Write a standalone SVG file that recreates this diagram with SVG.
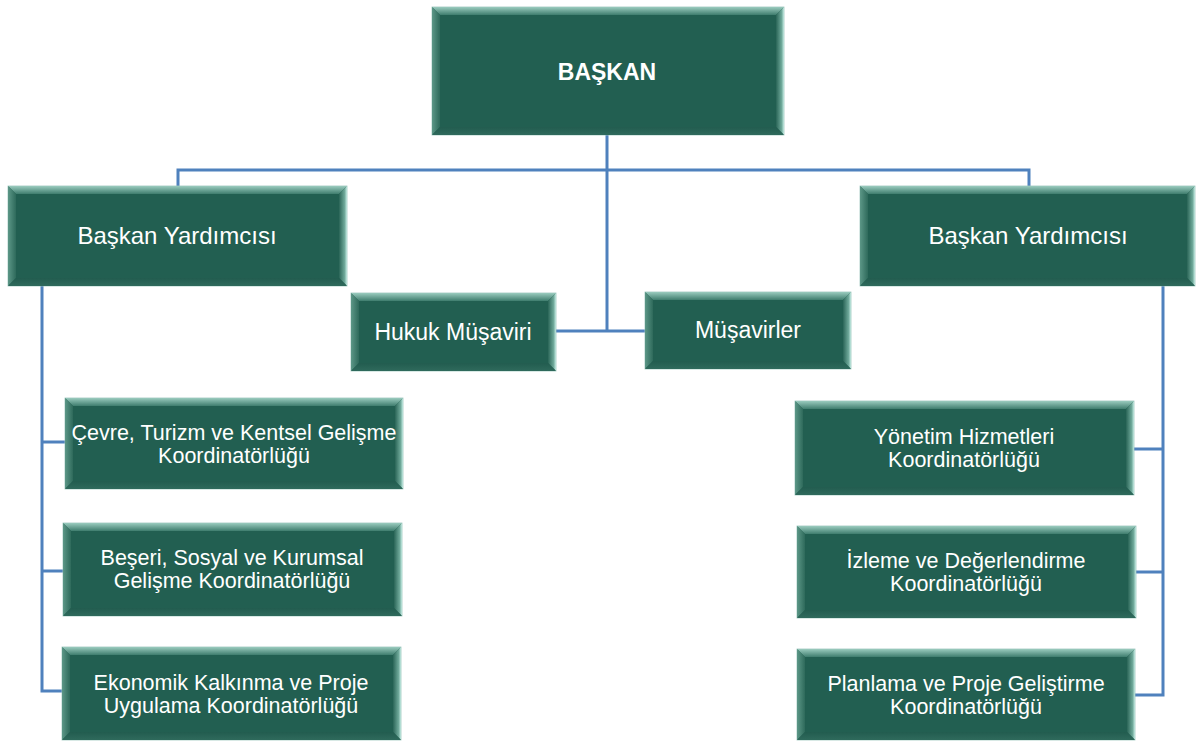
<svg xmlns="http://www.w3.org/2000/svg" width="1196" height="742" viewBox="0 0 1196 742">
<defs>
<linearGradient id="gTop" x1="0" y1="0" x2="0" y2="1"><stop offset="0" stop-color="#9ACBBE"/><stop offset="1" stop-color="#3F7D6E"/></linearGradient>
<linearGradient id="gLeft" x1="0" y1="0" x2="1" y2="0"><stop offset="0" stop-color="#5C9787"/><stop offset="1" stop-color="#2E6A5B"/></linearGradient>
<linearGradient id="gRight" x1="0" y1="0" x2="1" y2="0"><stop offset="0" stop-color="#2A6557"/><stop offset="0.7" stop-color="#6FA99A"/><stop offset="1" stop-color="#C4EAE2"/></linearGradient>
<linearGradient id="gBot" x1="0" y1="0" x2="0" y2="1"><stop offset="0" stop-color="#225C4F"/><stop offset="1" stop-color="#2F6A5C"/></linearGradient>
<style>
.base{fill:#225F51;stroke:#9FC7BE;stroke-width:0.8}
.bt{fill:url(#gTop)}
.bl{fill:url(#gLeft)}
.br{fill:url(#gRight)}
.bb{fill:url(#gBot)}
.t{font-family:"Liberation Sans",Arial,sans-serif;fill:#FFFFFF;text-anchor:middle}
.big{font-size:24px}
.mid{font-size:23px}
.sm{font-size:21.5px}
.b{font-weight:bold;font-size:23px}
.ln{stroke:#4F81BD;stroke-width:3;fill:none}
</style>
</defs>
<rect width="1196" height="742" fill="#FFFFFF"/>
<g id="connectors">
<path class="ln" d="M607 135 V331"/>
<path class="ln" d="M178 186 V170 H1029 V186"/>
<path class="ln" d="M556 331 H645"/>
<path class="ln" d="M42 286 V691 H62 M42 442 H65 M42 571 H63"/>
<path class="ln" d="M1163 286 V695 H1135 M1163 449 H1134 M1163 572 H1136"/>
</g>
<g id="baskan">
<rect class="base" x="432" y="7" width="352" height="128"/>
<polygon class="bt" points="432,7 784,7 776,15 440,15"/>
<polygon class="bl" points="432,7 440,15 440,127 432,135"/>
<polygon class="br" points="784,7 784,135 776,127 776,15"/>
<polygon class="bb" points="432,135 440,127 776,127 784,135"/>
<text class="t b" x="607" y="80">BAŞKAN</text>
</g>
<g id="vp-left">
<rect class="base" x="8" y="186" width="339" height="100"/>
<polygon class="bt" points="8,186 347,186 339,194 16,194"/>
<polygon class="bl" points="8,186 16,194 16,278 8,286"/>
<polygon class="br" points="347,186 347,286 339,278 339,194"/>
<polygon class="bb" points="8,286 16,278 339,278 347,286"/>
<text class="t big" x="177" y="244">Başkan Yardımcısı</text>
</g>
<g id="vp-right">
<rect class="base" x="860" y="186" width="335" height="100"/>
<polygon class="bt" points="860,186 1195,186 1187,194 868,194"/>
<polygon class="bl" points="860,186 868,194 868,278 860,286"/>
<polygon class="br" points="1195,186 1195,286 1187,278 1187,194"/>
<polygon class="bb" points="860,286 868,278 1187,278 1195,286"/>
<text class="t big" x="1028" y="244">Başkan Yardımcısı</text>
</g>
<g id="hukuk">
<rect class="base" x="351" y="293" width="205" height="78"/>
<polygon class="bt" points="351,293 556,293 548,301 359,301"/>
<polygon class="bl" points="351,293 359,301 359,363 351,371"/>
<polygon class="br" points="556,293 556,371 548,363 548,301"/>
<polygon class="bb" points="351,371 359,363 548,363 556,371"/>
<text class="t mid" x="453" y="340">Hukuk Müşaviri</text>
</g>
<g id="musavirler">
<rect class="base" x="645" y="292" width="206" height="77"/>
<polygon class="bt" points="645,292 851,292 843,300 653,300"/>
<polygon class="bl" points="645,292 653,300 653,361 645,369"/>
<polygon class="br" points="851,292 851,369 843,361 843,300"/>
<polygon class="bb" points="645,369 653,361 843,361 851,369"/>
<text class="t mid" x="748" y="338">Müşavirler</text>
</g>
<g id="cevre">
<rect class="base" x="65" y="398" width="338" height="91"/>
<polygon class="bt" points="65,398 403,398 395,406 73,406"/>
<polygon class="bl" points="65,398 73,406 73,481 65,489"/>
<polygon class="br" points="403,398 403,489 395,481 395,406"/>
<polygon class="bb" points="65,489 73,481 395,481 403,489"/>
<text class="t sm" x="234" y="440">Çevre, Turizm ve Kentsel Gelişme</text>
<text class="t sm" x="234" y="463">Koordinatörlüğü</text>
</g>
<g id="beseri">
<rect class="base" x="63" y="523" width="339" height="93"/>
<polygon class="bt" points="63,523 402,523 394,531 71,531"/>
<polygon class="bl" points="63,523 71,531 71,608 63,616"/>
<polygon class="br" points="402,523 402,616 394,608 394,531"/>
<polygon class="bb" points="63,616 71,608 394,608 402,616"/>
<text class="t sm" x="232" y="565">Beşeri, Sosyal ve Kurumsal</text>
<text class="t sm" x="232" y="588">Gelişme Koordinatörlüğü</text>
</g>
<g id="ekonomik">
<rect class="base" x="62" y="647" width="339" height="93"/>
<polygon class="bt" points="62,647 401,647 393,655 70,655"/>
<polygon class="bl" points="62,647 70,655 70,732 62,740"/>
<polygon class="br" points="401,647 401,740 393,732 393,655"/>
<polygon class="bb" points="62,740 70,732 393,732 401,740"/>
<text class="t sm" x="231" y="690">Ekonomik Kalkınma ve Proje</text>
<text class="t sm" x="231" y="713">Uygulama Koordinatörlüğü</text>
</g>
<g id="yonetim">
<rect class="base" x="795" y="401" width="339" height="94"/>
<polygon class="bt" points="795,401 1134,401 1126,409 803,409"/>
<polygon class="bl" points="795,401 803,409 803,487 795,495"/>
<polygon class="br" points="1134,401 1134,495 1126,487 1126,409"/>
<polygon class="bb" points="795,495 803,487 1126,487 1134,495"/>
<text class="t sm" x="964" y="444">Yönetim Hizmetleri</text>
<text class="t sm" x="964" y="467">Koordinatörlüğü</text>
</g>
<g id="izleme">
<rect class="base" x="797" y="526" width="339" height="92"/>
<polygon class="bt" points="797,526 1136,526 1128,534 805,534"/>
<polygon class="bl" points="797,526 805,534 805,610 797,618"/>
<polygon class="br" points="1136,526 1136,618 1128,610 1128,534"/>
<polygon class="bb" points="797,618 805,610 1128,610 1136,618"/>
<text class="t sm" x="966" y="568">İzleme ve Değerlendirme</text>
<text class="t sm" x="966" y="591">Koordinatörlüğü</text>
</g>
<g id="planlama">
<rect class="base" x="797" y="649" width="338" height="91"/>
<polygon class="bt" points="797,649 1135,649 1127,657 805,657"/>
<polygon class="bl" points="797,649 805,657 805,732 797,740"/>
<polygon class="br" points="1135,649 1135,740 1127,732 1127,657"/>
<polygon class="bb" points="797,740 805,732 1127,732 1135,740"/>
<text class="t sm" x="966" y="691">Planlama ve Proje Geliştirme</text>
<text class="t sm" x="966" y="714">Koordinatörlüğü</text>
</g>
</svg>
